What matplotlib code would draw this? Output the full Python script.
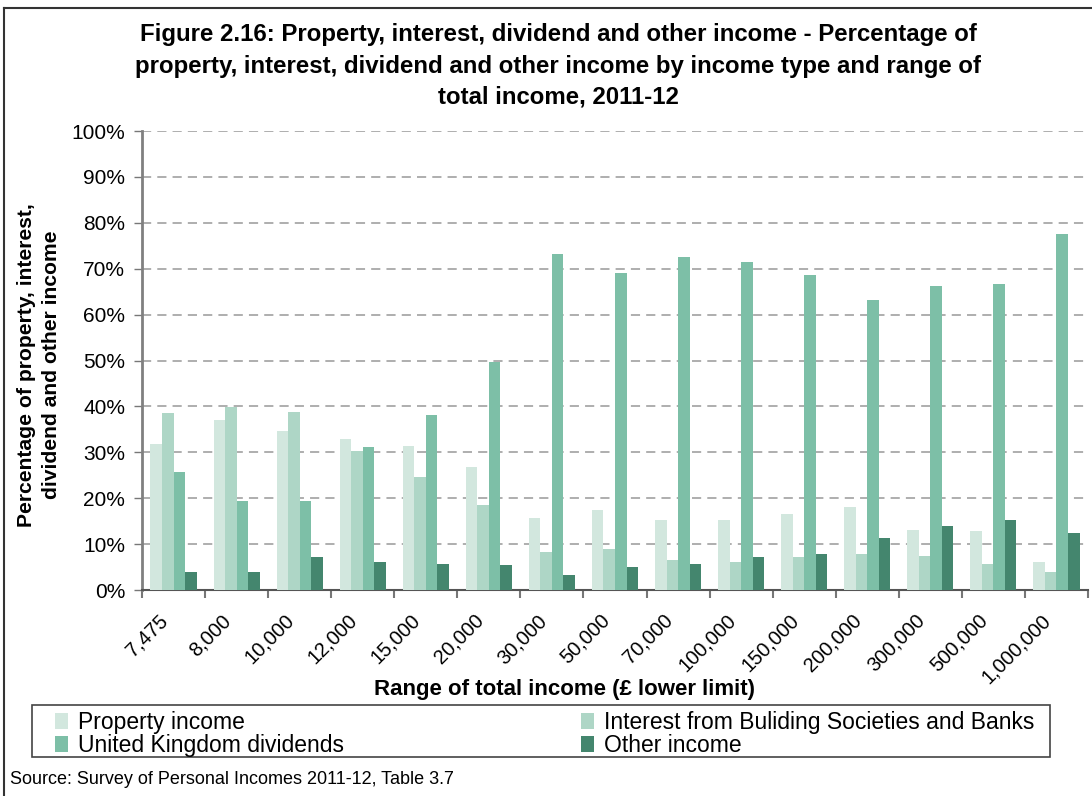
import numpy as np
import matplotlib.pyplot as plt
from matplotlib.lines import Line2D
from matplotlib.patches import Rectangle

plt.rcParams['font.family'] = ['Liberation Sans', 'DejaVu Sans']

# ---- data: share of property, interest, dividend and other income (%) ----
income_bands = ["7,475", "8,000", "10,000", "12,000", "15,000", "20,000", "30,000",
                "50,000", "70,000", "100,000", "150,000", "200,000", "300,000",
                "500,000", "1,000,000"]
property_income = [31.8, 37.0, 34.6, 32.9, 31.4, 26.8, 15.7, 17.4, 15.3, 15.3, 16.6, 18.1, 13.1, 12.9, 6.1]
interest_banks  = [38.6, 39.9, 38.8, 30.3, 24.6, 18.5, 8.3, 8.9, 6.5, 6.1, 7.2, 7.8, 7.4, 5.7, 3.9]
uk_dividends    = [25.7, 19.4, 19.4, 31.2, 38.1, 49.7, 73.2, 69.1, 72.5, 71.5, 68.6, 63.2, 66.2, 66.7, 77.6]
other_income    = [3.9, 3.9, 7.2, 6.1, 5.7, 5.4, 3.3, 5.0, 5.7, 7.2, 7.8, 11.3, 13.9, 15.3, 12.4]

series = [
    ("Property income", property_income, "#d2e7de"),
    ("Interest from Buliding Societies and Banks", interest_banks, "#aed6c6"),
    ("United Kingdom dividends", uk_dividends, "#7dbfa7"),
    ("Other income", other_income, "#44866e"),
]

W, H = 1092, 796
fig = plt.figure(figsize=(W / 100, H / 100), dpi=100)
ax = fig.add_axes([142 / W, 1 - 590 / H, (1088 - 142) / W, (590 - 131) / H])

x = np.arange(len(income_bands))
bw = 0.183
bars = []
for i, (name, vals, col) in enumerate(series):
    bars.append(ax.bar(x + (i - 1.5) * bw, vals, width=bw, color=col, label=name, zorder=3))

ax.set_xlim(-0.5, len(income_bands) - 0.5)
ax.set_ylim(0, 100)
ax.set_yticks(np.arange(0, 101, 10))
ax.set_yticklabels([f"{v}%" for v in range(0, 101, 10)], fontsize=15)
ax.yaxis.grid(True, linestyle=(0, (6, 4)), color="#999999", linewidth=1.1, zorder=0)

# category ticks sit on the group boundaries; rotated labels hang a little left of centre
ax.set_xticks(np.arange(len(income_bands) + 1) - 0.5)
ax.set_xticklabels([])
ax.set_xticks(x - 0.24, minor=True)
ax.set_xticklabels(income_bands, minor=True, rotation=45, ha="right",
                   rotation_mode="anchor", fontsize=14.5)
ax.tick_params(axis="x", which="minor", length=0, pad=15)
ax.tick_params(axis="x", which="major", length=6, width=1.5, color="#777777")
ax.tick_params(axis="y", length=6, width=1, color="#777777", pad=6)

for s in ["top", "right"]:
    ax.spines[s].set_visible(False)
ax.spines["left"].set_color("#808080")
ax.spines["left"].set_linewidth(2)
ax.spines["bottom"].set_color("#555555")
ax.spines["bottom"].set_linewidth(1.5)

fig.text(558 / W, 1 - 66 / H,
         "Figure 2.16: Property, interest, dividend and other income - Percentage of\n"
         "property, interest, dividend and other income by income type and range of\n"
         "total income, 2011-12",
         ha="center", va="center", fontsize=17.3, fontweight="bold", linespacing=1.45)

fig.text(39 / W, 1 - 365 / H, "Percentage of property, interest,\ndividend and other income",
         rotation=90, ha="center", va="center", fontsize=15.2, fontweight="bold",
         linespacing=1.38)

fig.text(565 / W, 1 - 689 / H, "Range of total income (£ lower limit)",
         ha="center", va="center", fontsize=16, fontweight="bold")

# legend: fill row by row, frame drawn separately
order = [0, 2, 1, 3]
leg = fig.legend([bars[i] for i in order], [series[i][0] for i in order],
                 loc="center left", bbox_to_anchor=(55 / W, 1 - 734 / H),
                 ncol=2, frameon=False, handlelength=0.55, handleheight=0.75,
                 handletextpad=0.45, borderpad=0, borderaxespad=0, labelspacing=0.0,
                 columnspacing=10.35, fontsize=16.5)
fig.add_artist(Rectangle((32 / W, 1 - 757 / H), (1050 - 32) / W, 52 / H,
                         transform=fig.transFigure, fill=False,
                         edgecolor="#444444", linewidth=1.2))

fig.text(10 / W, 1 - 779 / H, "Source: Survey of Personal Incomes 2011-12, Table 3.7",
         ha="left", va="center", fontsize=13)

# outer chart frame
fig.add_artist(Line2D([4 / W, 4 / W], [0, 1 - 8 / H], color="#333333", linewidth=1.5))
fig.add_artist(Line2D([4 / W, 1], [1 - 8 / H, 1 - 8 / H], color="#333333", linewidth=1.5))

fig.savefig("out.png", dpi=100)
